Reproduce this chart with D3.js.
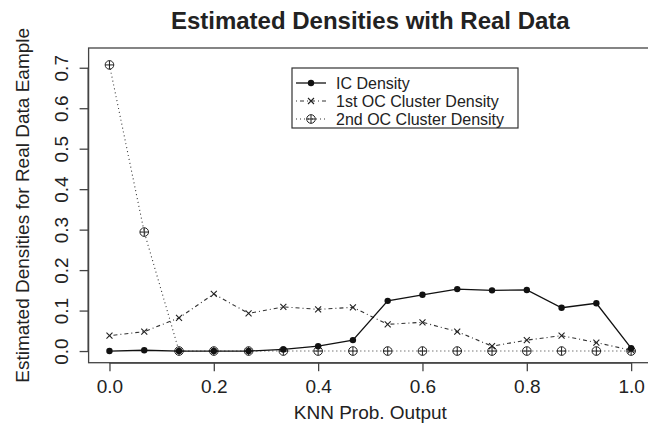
<!DOCTYPE html>
<html>
<head>
<meta charset="utf-8">
<script src="https://cdn.jsdelivr.net/npm/d3@7"></script>
<style>
  body { margin: 0; background: #fff; }
  svg text { font-family: "Liberation Sans", Arial, Helvetica, sans-serif; fill: #222; }
</style>
</head>
<body>
<svg id="chart" width="648" height="426"></svg>
<script>
// knn prob output grid (16 points, step 1/15)
const xVals = [0, 1 / 15, 2 / 15, 3 / 15, 4 / 15, 5 / 15, 6 / 15, 7 / 15, 8 / 15, 9 / 15, 10 / 15, 11 / 15, 12 / 15, 13 / 15, 14 / 15, 1];
const icDensity = [0.000, 0.002, 0.000, 0.000, 0.000, 0.004, 0.012, 0.027, 0.124, 0.139, 0.153, 0.150, 0.151, 0.107, 0.118, 0.007];
const oc1Density = [0.038, 0.048, 0.082, 0.141, 0.093, 0.109, 0.103, 0.108, 0.066, 0.071, 0.048, 0.012, 0.027, 0.038, 0.021, 0.002];
const oc2Density = [0.707, 0.294, 0.000, 0.000, 0.000, 0.000, 0.000, 0.000, 0.000, 0.000, 0.000, 0.000, 0.000, 0.000, 0.000, 0.000];
const xTicks = [0, 0.2, 0.4, 0.6, 0.8, 1.0];
const yTicks = [0, 0.1, 0.2, 0.3, 0.4, 0.5, 0.6, 0.7];
const seriesNames = ['IC Density', '1st OC Cluster Density', '2nd OC Cluster Density'];

const svg = d3.select('#chart');
const box = { left: 88.6, top: 48, right: 652, bottom: 362.7 };

// R style 4% padding on the ranges
const scaleX = d3.scaleLinear().domain([-0.04, 1.04]).range([box.left, box.right]);
const scaleY = d3.scaleLinear().domain([-0.0288, 0.7488]).range([box.bottom, box.top]);

const series = [
  { name: seriesNames[0], values: icDensity, dash: null, pch: 'dot' },
  { name: seriesNames[1], values: oc1Density, dash: '1,3,4,3', pch: 'cross' },
  { name: seriesNames[2], values: oc2Density, dash: '1,3', pch: 'oplus' }
];

const drawMarker = (g, type, cx, cy) => {
  if (type === 'dot') {
    g.append('circle').attr('cx', cx).attr('cy', cy).attr('r', 3.2).attr('fill', '#111');
  } else if (type === 'cross') {
    let s = 3;
    g.append('path')
      .attr('d', `M${cx - s},${cy - s}L${cx + s},${cy + s}M${cx - s},${cy + s}L${cx + s},${cy - s}`)
      .attr('stroke', '#222').attr('stroke-width', 1.1);
  } else {
    let r = 4.3;
    g.append('circle').attr('cx', cx).attr('cy', cy).attr('r', r)
      .attr('fill', 'none').attr('stroke', '#222').attr('stroke-width', 1);
    g.append('path')
      .attr('d', `M${cx - r},${cy}L${cx + r},${cy}M${cx},${cy - r}L${cx},${cy + r}`)
      .attr('stroke', '#222').attr('stroke-width', 1);
  }
};

// plot lines + points
const plotArea = svg.append('g').attr('class', 'plot');
const line = d3.line().x((d, i) => scaleX(xVals[i])).y(d => scaleY(d));
series.slice().reverse().forEach(s => {
  plotArea.append('path')
    .datum(s.values)
    .attr('d', line)
    .attr('fill', 'none')
    .attr('stroke', s.pch === 'dot' ? '#111' : '#333')
    .attr('stroke-width', s.pch === 'dot' ? 1.3 : 1.1)
    .attr('stroke-dasharray', s.dash);
  s.values.forEach((v, i) => drawMarker(plotArea, s.pch, scaleX(xVals[i]), scaleY(v)));
});

// box
svg.append('rect')
  .attr('x', box.left).attr('y', box.top)
  .attr('width', box.right - box.left).attr('height', box.bottom - box.top)
  .attr('fill', 'none').attr('stroke', '#444').attr('stroke-width', 1.3);

// x axis
const xAxis = svg.append('g')
  .attr('transform', `translate(0,${box.bottom})`)
  .call(d3.axisBottom(scaleX).tickValues(xTicks).tickSize(8.5).tickFormat(d3.format('.1f')));
xAxis.select('.domain')
  .attr('d', `M${scaleX(0)},0.5H${scaleX(1)}`)
  .attr('stroke', '#444').attr('stroke-width', 1.3);
xAxis.selectAll('.tick line').attr('stroke', '#444').attr('stroke-width', 1.3);
xAxis.selectAll('.tick text')
  .attr('y', 30).attr('dy', null)
  .style('font-size', '19px').style('font-family', '"Liberation Sans", Arial, sans-serif').attr('fill', '#222');

// y axis
const yAxis = svg.append('g')
  .attr('transform', `translate(${box.left},0)`)
  .call(d3.axisLeft(scaleY).tickValues(yTicks).tickSize(9).tickFormat(d3.format('.1f')));
yAxis.select('.domain')
  .attr('d', `M-0.5,${scaleY(0)}V${scaleY(0.7)}`)
  .attr('stroke', '#444').attr('stroke-width', 1.3);
yAxis.selectAll('.tick line').attr('stroke', '#444').attr('stroke-width', 1.3);
yAxis.selectAll('.tick text')
  .attr('x', null).attr('dy', null)
  .attr('text-anchor', 'middle')
  .attr('transform', 'translate(-21,0) rotate(-90)')
  .style('font-size', '19px').style('font-family', '"Liberation Sans", Arial, sans-serif').attr('fill', '#222');

// titles
svg.append('text')
  .attr('x', (box.left + box.right) / 2).attr('y', 29)
  .attr('text-anchor', 'middle')
  .style('font-size', '24px').style('font-weight', 'bold')
  .text('Estimated Densities with Real Data');
svg.append('text')
  .attr('x', (box.left + box.right) / 2).attr('y', 419)
  .attr('text-anchor', 'middle')
  .style('font-size', '19px')
  .text('KNN Prob. Output');
svg.append('text')
  .attr('transform', `translate(29,${(box.top + box.bottom) / 2}) rotate(-90)`)
  .attr('text-anchor', 'middle')
  .style('font-size', '19px')
  .text('Estimated Densities for Real Data Eample');

// legend
const legend = svg.append('g').attr('class', 'legend');
legend.append('rect')
  .attr('x', 292).attr('y', 68).attr('width', 226).attr('height', 60)
  .attr('fill', '#fff').attr('stroke', '#333').attr('stroke-width', 1.2);
series.forEach((s, i) => {
  let y = 83 + i * 18;
  legend.append('path')
    .attr('d', `M296,${y}H326`)
    .attr('stroke', s.pch === 'dot' ? '#111' : '#333')
    .attr('stroke-width', s.pch === 'dot' ? 1.3 : 1.1)
    .attr('stroke-dasharray', s.dash);
  drawMarker(legend, s.pch, 311, y);
  legend.append('text')
    .attr('x', 336).attr('y', y + 5.5)
    .style('font-size', '16px')
    .text(s.name);
});
</script>
</body>
</html>
